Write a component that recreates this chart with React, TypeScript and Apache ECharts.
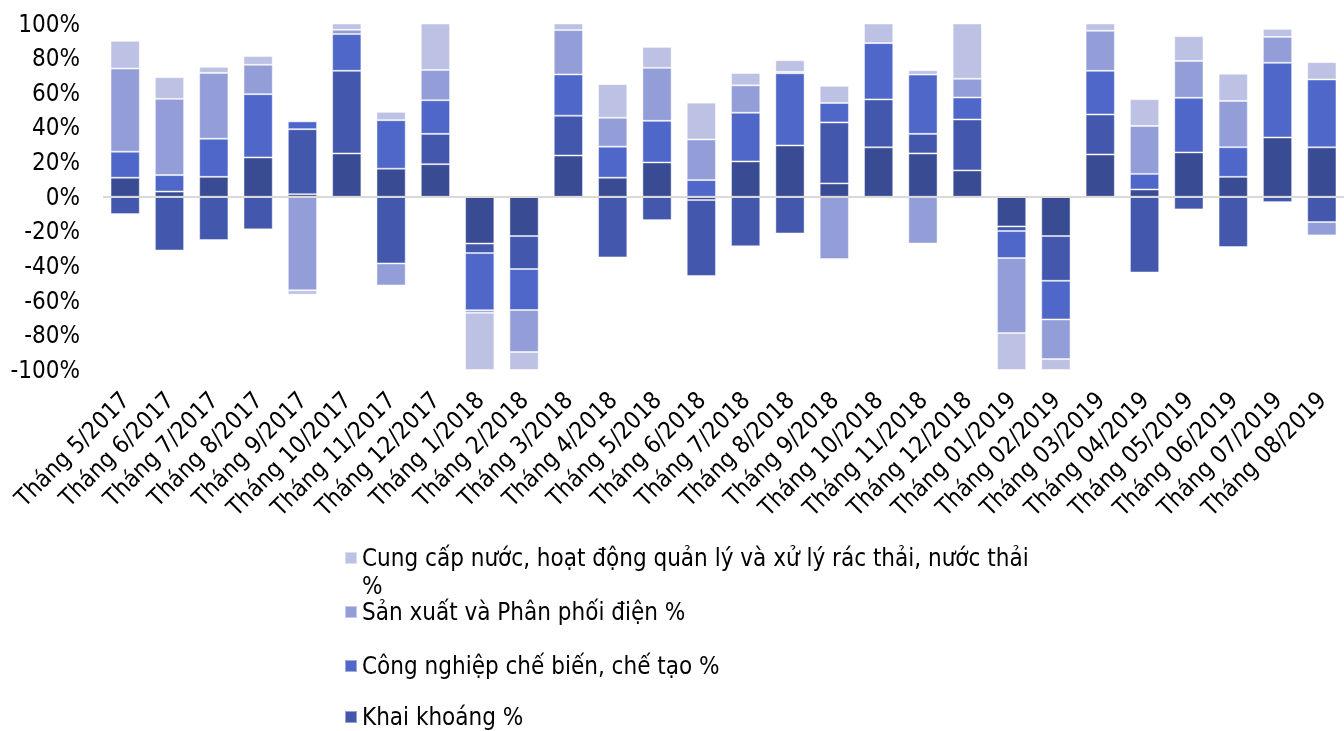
import React, { useEffect, useRef } from "react";
import * as echarts from "echarts";

const categories = [
  "Tháng 5/2017", "Tháng 6/2017", "Tháng 7/2017", "Tháng 8/2017", "Tháng 9/2017",
  "Tháng 10/2017", "Tháng 11/2017", "Tháng 12/2017", "Tháng 1/2018", "Tháng 2/2018",
  "Tháng 3/2018", "Tháng 4/2018", "Tháng 5/2018", "Tháng 6/2018", "Tháng 7/2018",
  "Tháng 8/2018", "Tháng 9/2018", "Tháng 10/2018", "Tháng 11/2018", "Tháng 12/2018",
  "Tháng 01/2019", "Tháng 02/2019", "Tháng 03/2019", "Tháng 04/2019", "Tháng 05/2019",
  "Tháng 06/2019", "Tháng 07/2019", "Tháng 08/2019",
];

// bottom-most series (legend entry lies below the visible area)
const series1Name = "Chuỗi 5";
const series1 = [11, 3, 11.5, 22.7, 1.5, 25, 16.2, 18.8, -27, -22.7, 23.8, 11, 19.8, -1.9, 20.4, 29.6, 7.7, 28.5, 25, 15.2, -17.1, -22.7, 24.4, 4.2, 25.6, 11.5, 34.2, 28.5];

const miningName = "Khai khoáng %";
const mining = [-10, -31, -25, -18.8, 37.5, 47.7, -38.5, 17.5, -5.5, -19, 23, -35, -13.5, -43.8, -28.6, -21.2, 35.2, 27.7, 11.3, 29.4, -2.7, -25.8, 23.1, -43.7, -7.3, -29, -3.1, -14.6];

const manufName = "Công nghiệp chế biến, chế tạo %";
const manuf = [15, 9.5, 22, 36.5, 4.5, 21.2, 28, 19.4, -33, -23.7, 23.8, 17.9, 24, 9.6, 28.1, 41.7, 11.2, 32.5, 34.2, 12.7, -15.6, -22.3, 25.2, 9, 31.5, 17.1, 43.1, 39.2];

const powerName = "Sản xuất và Phân phối điện %";
const power = [48, 44, 38, 17, -54, 2.5, -12.7, 17.5, -1.5, -24.2, 25.6, 16.7, 30.6, 23.5, 15.8, 0.8, -36, 0, -27, 10.8, -43.3, -22.9, 23.1, 27.7, 21.3, 26.7, 15, -7.7];

const waterName = "Cung cấp nước, hoạt động quản lý và xử lý rác thải, nước thải %";
const water = [16, 12.5, 3.5, 5, -2.5, 3.6, 4.8, 26.8, -33, -10.4, 3.8, 19.4, 12.1, 21.2, 7.1, 6.7, 9.9, 11.3, 2.5, 31.9, -21.3, -6.3, 4.2, 15.4, 14.3, 15.7, 4.6, 10];

const yTicks = { min: -100, max: 100, interval: 20 };

const FONT = "'DejaVu Sans Condensed', 'DejaVu Sans', sans-serif";
const FS = 24;
const colors = ["#394B93", "#4358AD", "#4F67C8", "#939ED8", "#BDC1E3"];

export default function App() {
  const ref = useRef<HTMLDivElement>(null);
  useEffect(() => {
    if (!ref.current) return;
    const chart = echarts.init(ref.current, undefined, { renderer: "svg" });
    const names = [series1Name, miningName, manufName, powerName, waterName];
    const datas = [series1, mining, manuf, power, water];
    const legendBase = {
      left: 344,
      orient: "vertical" as const,
      icon: "rect",
      itemWidth: 12,
      itemHeight: 12,
      padding: 0,
      selectedMode: false,
      textStyle: { fontSize: FS, color: "#000", fontFamily: FONT },
    };
    chart.setOption({
      animation: false,
      textStyle: { fontFamily: FONT },
      grid: { left: 103, right: -12, top: 23.5, bottom: 361 },
      xAxis: {
        type: "category",
        data: categories,
        axisLine: { show: false, onZero: false },
        axisTick: { show: false },
        axisLabel: {
          rotate: 45,
          interval: 0,
          margin: 26,
          fontSize: FS,
          color: "#000",
          fontFamily: FONT,
        },
      },
      yAxis: {
        type: "value",
        min: yTicks.min,
        max: yTicks.max,
        interval: yTicks.interval,
        splitLine: { show: false },
        axisLine: { show: false },
        axisTick: { show: false },
        axisLabel: {
          formatter: "{value}%",
          margin: 23,
          fontSize: FS,
          color: "#000",
          fontFamily: FONT,
        },
      },
      legend: [
        { ...legendBase, top: 546, data: [waterName], formatter: () => "Cung cấp nước, hoạt động quản lý và xử lý rác thải, nước thải" },
        { ...legendBase, top: 600, data: [powerName] },
        { ...legendBase, top: 654, data: [manufName] },
        { ...legendBase, top: 705, data: [miningName] },
      ],
      graphic: [
        {
          type: "text",
          left: 362,
          top: 574,
          style: { text: "%", fontSize: FS, fill: "#000", fontFamily: FONT },
        },
      ],
      series: names.map((n, i) => ({
        name: n,
        type: "bar",
        stack: "total",
        data: datas[i],
        barCategoryGap: "34%",
        itemStyle: {
          color: colors[i],
          borderColor: "rgba(255,255,255,0.45)",
          borderWidth: 1,
        },
        ...(i === 0
          ? {
              markLine: {
                silent: true,
                symbol: "none",
                label: { show: false },
                lineStyle: { color: "#D9D9D9", width: 2, type: "solid" },
                data: [{ yAxis: 0 }],
              },
            }
          : {}),
      })),
    });
    return () => chart.dispose();
  }, []);
  return (
    <div
      ref={ref}
      style={{ position: "fixed", left: 0, top: 0, width: 1344, height: 731 }}
    />
  );
}
